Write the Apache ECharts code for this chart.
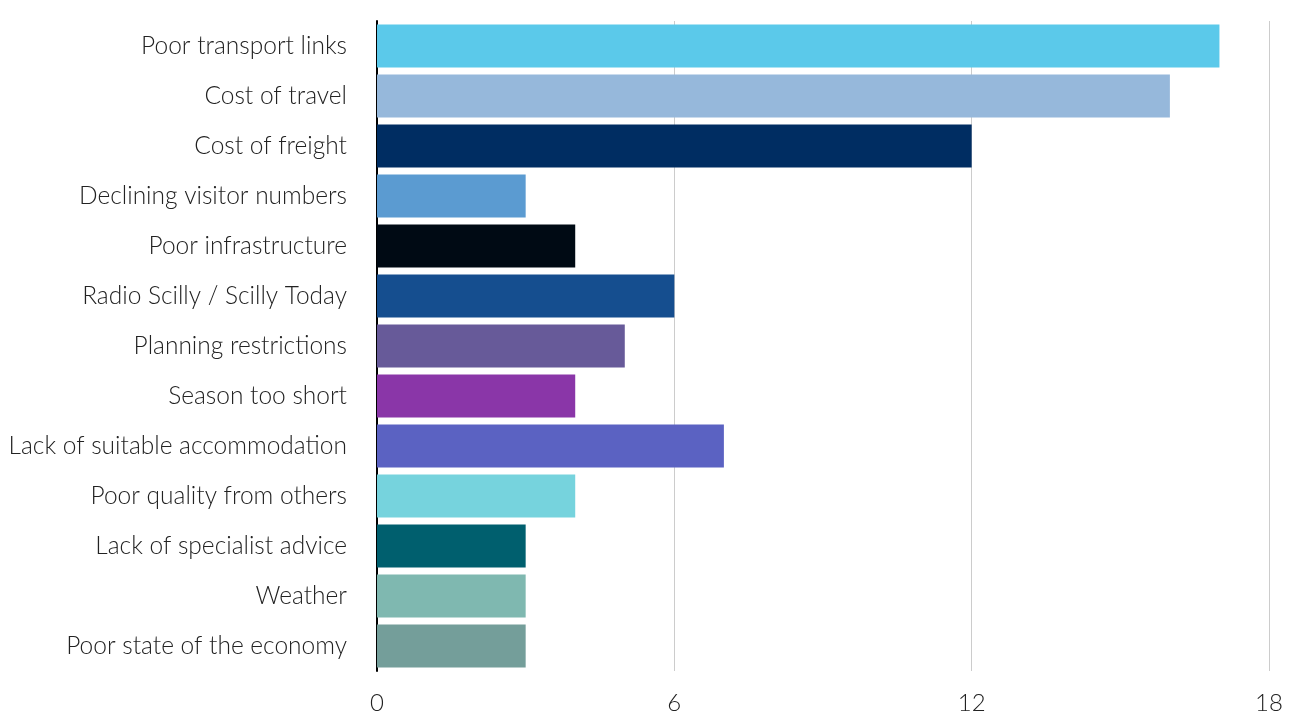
<!DOCTYPE html>
<html>
<head>
<meta charset="utf-8">
<script src="https://cdn.jsdelivr.net/npm/echarts@6/dist/echarts.min.js"></script>
<style>
  html, body { margin: 0; padding: 0; background: #fff; }
  #chart { width: 1297px; height: 715px; }
</style>
</head>
<body>
<div id="chart"></div>
<script>
// Barriers, listed top to bottom
const categories = [
  'Poor transport links',
  'Cost of travel',
  'Cost of freight',
  'Declining visitor numbers',
  'Poor infrastructure',
  'Radio Scilly / Scilly Today',
  'Planning restrictions',
  'Season too short',
  'Lack of suitable accommodation',
  'Poor quality from others',
  'Lack of specialist advice',
  'Weather',
  'Poor state of the economy'
];
const values = [17, 16, 12, 3, 4, 6, 5, 4, 7, 4, 3, 3, 3];
const barColors = [
  '#5BC9EA', '#96B8DB', '#002D62', '#5B9BD1', '#000A14', '#154E8F', '#675A99',
  '#8A36A8', '#5B62C2', '#76D3DD', '#005F6E', '#7FB8B0', '#749E9A'
];
const xTicks = [0, 6, 12, 18];

const chart = echarts.init(document.getElementById('chart'));
const labelFont = 'Lato, "Open Sans", sans-serif';

chart.setOption({
  animation: false,
  grid: { left: 377, right: 28, top: 21, bottom: 44, containLabel: false },
  xAxis: {
    type: 'value',
    min: xTicks[0],
    max: xTicks[xTicks.length - 1],
    interval: 6,
    axisLine: { show: false },
    axisTick: { show: false },
    splitLine: { show: true, lineStyle: { color: '#cccccc', width: 1 } },
    axisLabel: {
      color: '#222222', fontSize: 24, fontFamily: labelFont, fontWeight: 300,
      margin: 20
    }
  },
  yAxis: {
    type: 'category',
    data: categories,
    inverse: true,
    axisLine: { show: true, lineStyle: { color: '#000000', width: 2 } },
    axisTick: { show: false },
    axisLabel: {
      color: '#222222', fontSize: 24.5, fontFamily: labelFont, fontWeight: 300,
      margin: 30
    }
  },
  series: [{
    type: 'bar',
    data: values.map((v, i) => ({ value: v, itemStyle: { color: barColors[i] } })),
    barCategoryGap: '14%'
  }]
});
</script>
</body>
</html>
